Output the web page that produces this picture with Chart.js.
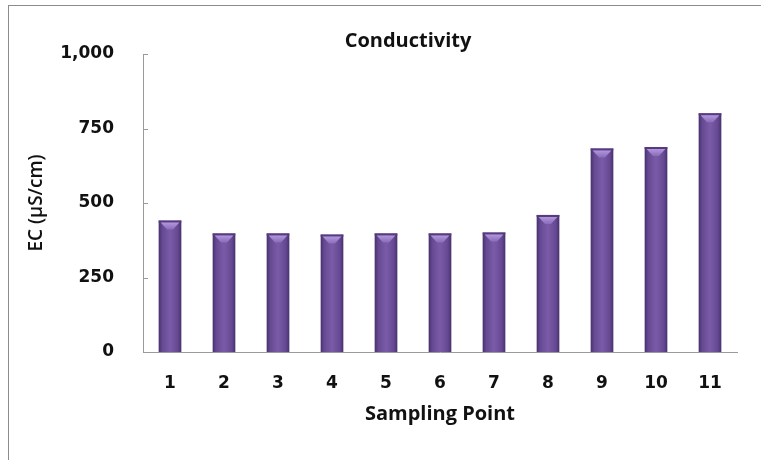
<!DOCTYPE html>
<html>
<head>
<meta charset="utf-8">
<script src="https://cdn.jsdelivr.net/npm/chart.js@4.4.1/dist/chart.umd.min.js"></script>
<style>
  html, body { margin: 0; padding: 0; background: #fff; }
  #wrap { position: relative; width: 761px; height: 460px; overflow: hidden; }
  #frame { position: absolute; left: 8px; top: 5px; width: 800px; height: 500px;
           border-top: 1px solid #8c8c8c; border-left: 1px solid #8c8c8c; }
  #chart { position: absolute; left: 0; top: 0; }
</style>
</head>
<body>
<div id="wrap">
  <div id="frame"></div>
  <canvas id="chart" width="761" height="460"></canvas>
</div>
<script>
// Datos del gráfico
const TITLE = 'Conductivity';
const X_TITLE = 'Sampling Point';
const Y_TITLE = 'EC (µS/cm)';
const categories = ['1', '2', '3', '4', '5', '6', '7', '8', '9', '10', '11'];
const ecValues = [441, 398, 398, 394, 398, 398, 401, 460, 683, 688, 801];
const yTicks = [0, 250, 500, 750, 1000];

const BAR_PCT = 0.42;
const AXIS_COLOR = '#9a9a9a';

Chart.defaults.font.family = '"DejaVu Sans", Verdana, sans-serif';
Chart.defaults.color = '#111';

// Degradado horizontal para cada barra
function barGradient(ctx) {
  const chart = ctx.chart;
  const area = chart.chartArea;
  if (!area) return '#7155a0';
  const xScale = chart.scales.x;
  const cx = xScale.getPixelForValue(ctx.dataIndex);
  const w = (area.right - area.left) / categories.length * BAR_PCT;
  const g = chart.ctx.createLinearGradient(cx - w / 2, 0, cx + w / 2, 0);
  g.addColorStop(0, '#47306a');
  g.addColorStop(0.15, '#654892');
  g.addColorStop(0.5, '#7a5ba8');
  g.addColorStop(0.85, '#654892');
  g.addColorStop(1, '#47306a');
  return g;
}

// Bisel claro en la parte superior de cada barra
const bevelPlugin = {
  id: 'bevel',
  afterDatasetsDraw(chart) {
    const ctx = chart.ctx;
    chart.getDatasetMeta(0).data.forEach(bar => {
      const {x, y, width} = bar;
      const l = x - width / 2, r = x + width / 2;
      ctx.save();
      ctx.fillStyle = '#563b7e';
      ctx.fillRect(l, y, width, 2);
      const g = ctx.createLinearGradient(0, y + 1, 0, y + 9);
      g.addColorStop(0, '#b79ce2');
      g.addColorStop(1, '#8a6cba');
      ctx.fillStyle = g;
      ctx.beginPath();
      ctx.moveTo(l + 2, y + 2);
      ctx.lineTo(r - 2, y + 2);
      ctx.lineTo(x + 3, y + 9);
      ctx.lineTo(x - 3, y + 9);
      ctx.closePath();
      ctx.fill();
      ctx.restore();
    });
  }
};

// Título desplazado y marcas interiores del eje Y
const extrasPlugin = {
  id: 'extras',
  afterDraw(chart) {
    const ctx = chart.ctx;
    const yScale = chart.scales.y;
    const left = chart.chartArea.left;
    ctx.save();
    ctx.strokeStyle = AXIS_COLOR;
    ctx.lineWidth = 1;
    yTicks.forEach(v => {
      const py = Math.round(yScale.getPixelForValue(v)) + 0.5;
      ctx.beginPath();
      ctx.moveTo(left, py);
      ctx.lineTo(left + 5, py);
      ctx.stroke();
    });
    ctx.font = 'bold 20px "Open Sans"';
    ctx.fillStyle = '#111';
    ctx.textAlign = 'center';
    ctx.textBaseline = 'middle';
    ctx.fillText(TITLE, 408, 41);
    ctx.restore();
  }
};

new Chart(document.getElementById('chart'), {
  type: 'bar',
  data: {
    labels: categories,
    datasets: [{
      label: 'EC',
      data: ecValues,
      backgroundColor: barGradient,
      borderWidth: 0,
      barPercentage: BAR_PCT,
      categoryPercentage: 1
    }]
  },
  options: {
    responsive: false,
    animation: false,
    layout: { padding: { left: 21, top: 54, right: 24, bottom: 0 } },
    plugins: {
      legend: { display: false },
      tooltip: { enabled: false }
    },
    scales: {
      x: {
        grid: { display: false },
        border: { color: AXIS_COLOR },
        ticks: { padding: 13, font: { size: 17, weight: 'bold' } },
        title: {
          display: true, text: X_TITLE,
          font: { family: '"Open Sans"', size: 20, weight: 'bold' },
          padding: { top: 0, bottom: 34 }
        },
        afterFit: s => { s.height = 108; }
      },
      y: {
        min: 0, max: 1000,
        afterBuildTicks: s => { s.ticks = yTicks.map(v => ({value: v})); },
        grid: { display: false },
        border: { color: AXIS_COLOR },
        ticks: { padding: 21, font: { size: 17, weight: 'bold' } },
        title: {
          display: true, text: Y_TITLE,
          font: { family: '"Open Sans"', size: 19, weight: '600' },
          padding: { top: 4, bottom: 4 }
        },
        afterFit: s => { s.width = 122; }
      }
    }
  },
  plugins: [bevelPlugin, extrasPlugin]
});
</script>
</body>
</html>
